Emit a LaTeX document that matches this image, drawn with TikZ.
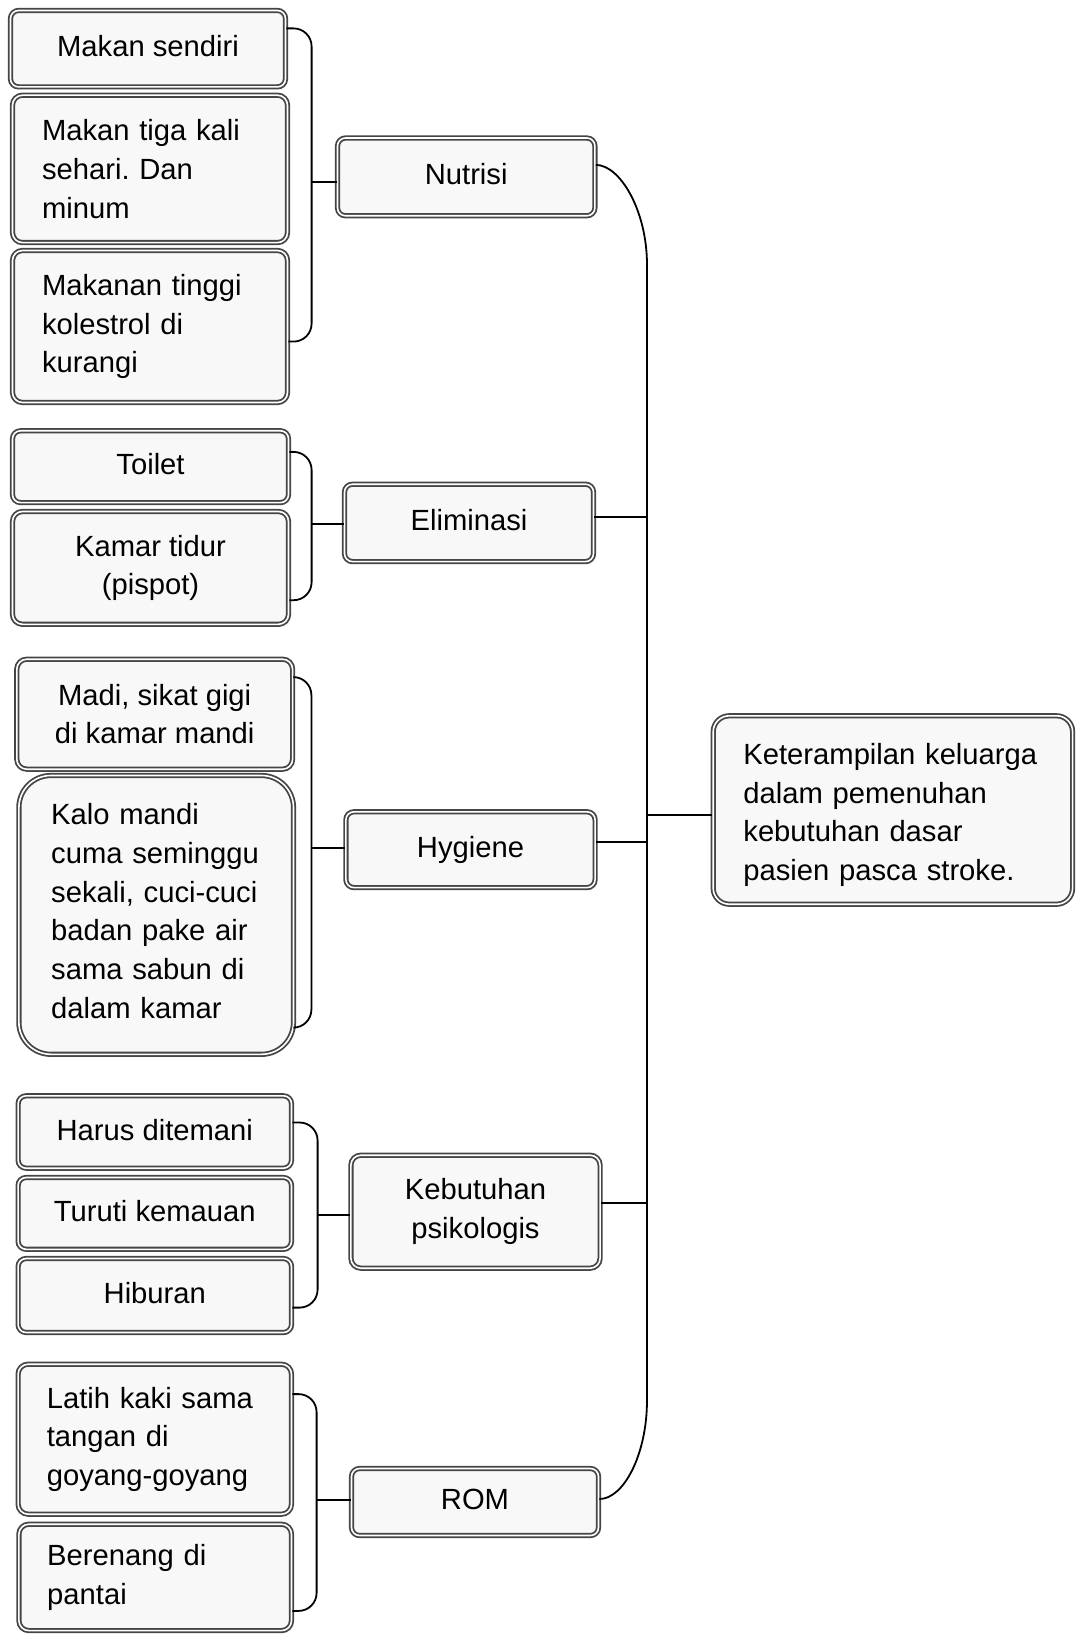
\documentclass[tikz,border=0pt]{standalone}
\usepackage{fontspec}
\setmainfont{Liberation Sans}
\frenchspacing
\definecolor{boxline}{HTML}{454545}
\definecolor{boxfill}{HTML}{F8F8F8}

\begin{document}
\begin{tikzpicture}
      [%%%%%%%%%%%%%%%%%%%%%%%%%%%%%%
      x=0.5pt,y=-0.5pt,
      box/.style={rectangle,rounded corners=4pt,draw=boxline,double=white,
        double distance=0.8pt,line width=0.9pt,fill=boxfill,inner sep=0pt,
        font=\fontsize{14.6}{19.35}\selectfont},
      onebox/.style={box,text depth=0.25em},
      link/.style={draw=black,line width=0.9pt},
      ]%%%%%%%%%%%%%%%%%%%%%%%%%%%%%%
      \useasboundingbox (0,0) rectangle (1076,1636);

      % root
      \node[box,rounded corners=8pt,minimum width=179.7pt,minimum height=94.2pt,
        text width=149.5pt,align=left] (root) at (892.9,810)
        {\rule{0pt}{15.6pt}Keterampilan keluarga\\dalam pemenuhan\\kebutuhan dasar\\pasien pasca stroke.};

      % middle column
      \node[onebox,minimum width=128.7pt,minimum height=38.9pt] (nut) at (466.2,176.9) {Nutrisi};
      \node[onebox,minimum width=124.5pt,minimum height=38.7pt] (elim) at (469,522.9) {Eliminasi};
      \node[onebox,minimum width=124.6pt,minimum height=37.9pt] (hyg) at (470.5,849.7) {Hygiene};
      \node[box,rounded corners=5pt,minimum width=124.6pt,minimum height=56.5pt,
        align=center] (keb) at (475.5,1211.7) {Kebutuhan\\psikologis};
      \node[onebox,minimum width=123.5pt,minimum height=33.5pt] (rom) at (475,1502) {ROM};

      % left column
      \node[onebox,minimum width=137.5pt,minimum height=38.2pt] (ms) at (148,48.7) {Makan sendiri};
      \node[box,rounded corners=5pt,minimum width=137.5pt,minimum height=73.7pt,
        text width=108pt,align=left] (mtk) at (150,168.9) {Makan tiga kali\\sehari. Dan\\minum};
      \node[box,rounded corners=5pt,minimum width=137.5pt,minimum height=76pt,
        text width=108pt,align=left] (mtinggi) at (150,326.5) {Makanan tinggi\\kolestrol di\\kurangi};

      \node[onebox,minimum width=138pt,minimum height=35.9pt] (toilet) at (150.5,466.7) {Toilet};
      \node[box,rounded corners=5pt,minimum width=138pt,minimum height=56.4pt,
        align=center] (kamar) at (150.5,567.9) {Kamar tidur\\(pispot)};

      \node[box,rounded corners=5pt,minimum width=137.9pt,minimum height=55pt,
        align=center] (madi) at (154.7,714.2) {Madi, sikat gigi\\di kamar mandi};
      \node[box,rounded corners=16pt,minimum width=137.3pt,minimum height=139.4pt,
        text width=105pt,align=left] (kalo) at (156.2,914.9)
        {Kalo mandi\\cuma seminggu\\sekali, cuci-cuci\\badan pake air\\sama sabun di\\dalam kamar\rule[-4pt]{0pt}{0pt}};

      \node[onebox,minimum width=136.7pt,minimum height=36.2pt] (harus) at (154.8,1132) {Harus ditemani};
      \node[onebox,minimum width=136.7pt,minimum height=35.9pt] (turuti) at (154.8,1213.4) {Turuti kemauan};
      \node[onebox,minimum width=136.7pt,minimum height=37pt] (hiburan) at (154.8,1295.5) {Hiburan};

      \node[box,rounded corners=5pt,minimum width=136.7pt,minimum height=75pt,
        text width=108pt,align=left] (latih) at (154.8,1439.2) {Latih kaki sama\\tangan di\\goyang-goyang};
      \node[box,rounded corners=5pt,minimum width=136.3pt,minimum height=53.2pt,
        text width=108pt,align=left] (berenang) at (155.2,1577.4) {Berenang di\\pantai};

      % trunk
      \coordinate (ttop) at (647,265);
      \coordinate (tbot) at (647,1400);
      \draw[link] ([yshift=6pt]nut.east) .. controls +(24,0) and +(0,-55) .. (ttop)
        -- (tbot) .. controls +(0,55) and +(24,0) .. ([yshift=1.5pt]rom.east);
      \coordinate (e1) at ([yshift=3pt]elim.east);
      \coordinate (h1) at ([yshift=4pt]hyg.east);
      \coordinate (k1) at ([yshift=4.2pt]keb.east);
      \coordinate (r1) at ([yshift=-2.5pt]root.west);
      \draw[link] (e1) -- (e1 -| ttop);
      \draw[link] (h1) -- (h1 -| ttop);
      \draw[link] (k1) -- (k1 -| ttop);
      \draw[link] (r1) -- (r1 -| ttop);

      % brackets
      \coordinate (j1) at ([xshift=-12.5pt,yshift=-2.4pt]nut.west);
      \coordinate (j2) at ([xshift=-16pt,yshift=-0.6pt]elim.west);
      \coordinate (j3) at ([xshift=-16.8pt,yshift=0.8pt]hyg.west);
      \coordinate (j4) at ([xshift=-16.2pt,yshift=-1.6pt]keb.west);
      \coordinate (j5) at ([xshift=-17pt,yshift=1pt]rom.west);
      \draw[link] (j1) -- (j1 -| nut.west);
      \draw[link] (j2) -- (j2 -| elim.west);
      \draw[link] (j3) -- (j3 -| hyg.west);
      \draw[link] (j4) -- (j4 -| keb.west);
      \draw[link] (j5) -- (j5 -| rom.west);
      \draw[link,rounded corners=9pt] ([yshift=-9.4pt]ms.north east) -| (j1) |- ([yshift=30.9pt]mtinggi.south east);
      \draw[link,rounded corners=9pt] ([yshift=-11pt]toilet.north east) -| (j2) |- ([yshift=12.5pt]kamar.south east);
      \draw[link,rounded corners=9pt] ([yshift=-9.4pt]madi.north east) -| (j3) |- ([yshift=13.8pt]kalo.south east);
      \draw[link,rounded corners=9pt] ([yshift=-13.8pt]harus.north east) -| (j4) |- ([yshift=12.9pt]hiburan.south east);
      \draw[link,rounded corners=9pt] ([yshift=-15.4pt]latih.north east) -| (j5) |- ([yshift=10.3pt]berenang.south east);
    \end{tikzpicture}
\end{document}
